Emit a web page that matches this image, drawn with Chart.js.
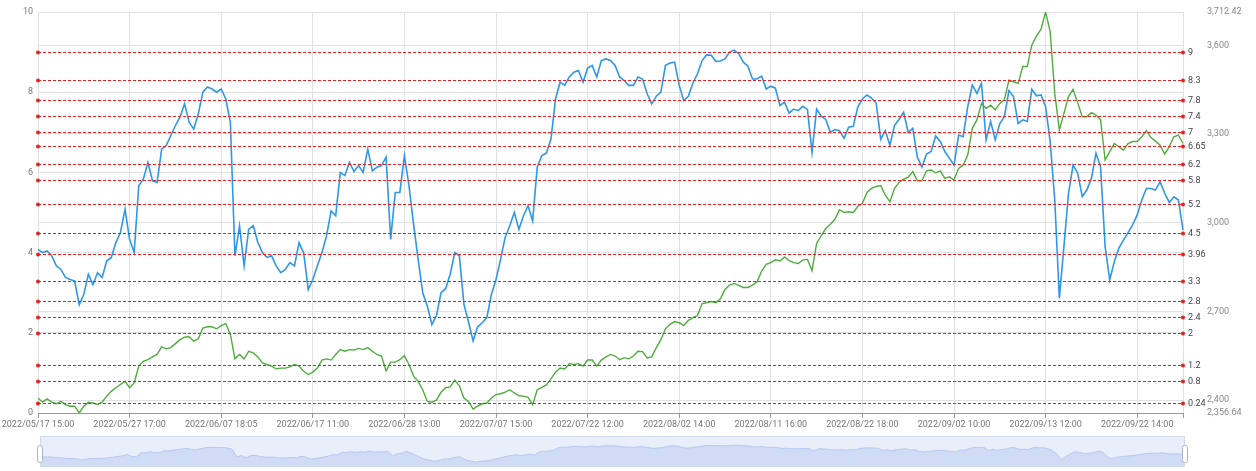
<!DOCTYPE html>
<html>
<head>
<meta charset="utf-8">
<script src="https://cdn.jsdelivr.net/npm/chart.js@4.4.1/dist/chart.umd.min.js"></script>
<style>
  html, body { margin: 0; padding: 0; background: #fff; }
  #wrap { position: relative; width: 1256px; height: 471px; }
  #chart { position: absolute; left: 0; top: 0; }
  #zoom { position: absolute; left: 0; top: 436px; }
</style>
</head>
<body>
<div id="wrap">
  <canvas id="chart" width="1256" height="432"></canvas>
  <canvas id="zoom" width="1256" height="31"></canvas>
</div>
<script>
'use strict';

// x axis labels, one every 20 points
const tickLabels = [
  '2022/05/17 15:00', '2022/05/27 17:00', '2022/06/07 18:05', '2022/06/17 11:00',
  '2022/06/28 13:00', '2022/07/07 15:00', '2022/07/22 12:00', '2022/08/02 14:00',
  '2022/08/11 16:00', '2022/08/22 18:00', '2022/09/02 10:00', '2022/09/13 12:00',
  '2022/09/22 14:00'
];
const labelEvery = 20;

// left axis series (0 - 10)
const blueVals = [
  4.08, 4.0, 4.04, 3.92, 3.67, 3.58, 3.38, 3.33, 3.29, 2.7,
  2.96, 3.46, 3.2, 3.5, 3.38, 3.79, 3.88, 4.25, 4.5, 5.08,
  4.33, 4.0, 5.67, 5.83, 6.25, 5.79, 5.75, 6.58, 6.67, 6.92,
  7.17, 7.38, 7.71, 7.25, 7.08, 7.46, 8.0, 8.13, 8.08, 8.0,
  8.08, 7.83, 7.25, 3.92, 4.67, 3.67, 4.58, 4.67, 4.25, 4.0,
  3.88, 3.92, 3.67, 3.5, 3.58, 3.75, 3.67, 4.25, 4.0, 3.08,
  3.33, 3.67, 4.0, 4.42, 5.04, 4.92, 6.0, 5.92, 6.25, 6.02,
  6.17, 6.0, 6.58, 6.04, 6.13, 6.17, 6.38, 4.33, 5.5, 5.5,
  6.42, 5.67, 4.71, 3.83, 3.0, 2.67, 2.21, 2.43, 3.0, 3.1,
  3.46, 4.0, 3.92, 2.71, 2.27, 1.8, 2.15, 2.25, 2.38, 2.96,
  3.33, 3.83, 4.38, 4.67, 5.0, 4.58, 4.92, 5.17, 4.79, 6.13,
  6.42, 6.48, 6.83, 7.83, 8.25, 8.17, 8.38, 8.5, 8.54, 8.25,
  8.6, 8.67, 8.38, 8.79, 8.83, 8.79, 8.67, 8.38, 8.29, 8.17,
  8.17, 8.38, 8.33, 7.96, 7.71, 7.9, 8.0, 8.67, 8.73, 8.75,
  8.17, 7.79, 7.9, 8.23, 8.46, 8.79, 8.93, 8.92, 8.77, 8.78,
  8.83, 9.0, 9.05, 8.96, 8.75, 8.65, 8.33, 8.33, 8.4, 8.08,
  8.15, 8.1, 7.67, 7.75, 7.48, 7.58, 7.54, 7.65, 7.57, 6.5,
  7.58, 7.4, 7.32, 7.0, 7.07, 7.04, 6.85, 7.13, 7.15, 7.63,
  7.83, 7.93, 7.85, 7.73, 6.83, 7.04, 6.68, 7.17, 7.32, 7.5,
  7.0, 7.1, 6.38, 6.13, 6.46, 6.52, 6.91, 6.77, 6.52, 6.35,
  6.18, 6.93, 6.89, 7.64, 8.18, 7.97, 8.22, 6.81, 7.27, 6.81,
  7.22, 7.39, 8.04, 7.89, 7.22, 7.31, 7.27, 8.07, 7.91, 7.93,
  7.64, 6.77, 5.31, 2.86, 4.15, 5.48, 6.18, 5.98, 5.4, 5.56,
  5.85, 6.48, 6.14, 4.15, 3.32, 3.77, 4.11, 4.31, 4.5, 4.69,
  4.94, 5.31, 5.6, 5.6, 5.56, 5.77, 5.48, 5.25, 5.39, 5.31,
  4.56
];

// right axis series
const greenVals = [
  2407.5, 2393.2, 2404.1, 2393.2, 2387.8, 2395.9, 2385.1, 2379.7, 2379.7, 2356.64,
  2379.7, 2393.2, 2390.5, 2385.1, 2393.2, 2413.6, 2429.8, 2442.0, 2452.9, 2463.7,
  2442.0, 2458.3, 2515.3, 2531.5, 2536.9, 2546.4, 2554.6, 2580.3, 2573.6, 2577.6,
  2591.2, 2604.7, 2612.9, 2614.2, 2599.3, 2607.5, 2644.0, 2648.1, 2648.1, 2641.3,
  2652.2, 2659.0, 2622.4, 2539.7, 2554.6, 2539.7, 2565.4, 2560.0, 2546.4, 2526.1,
  2520.7, 2515.3, 2505.8, 2508.5, 2508.5, 2512.6, 2520.7, 2515.3, 2497.6, 2486.8,
  2494.9, 2508.5, 2535.6, 2539.7, 2535.6, 2554.6, 2570.9, 2565.4, 2570.9, 2569.5,
  2574.9, 2570.9, 2577.6, 2565.4, 2554.6, 2549.2, 2499.0, 2528.8, 2528.8, 2536.9,
  2550.5, 2520.7, 2481.4, 2463.7, 2435.3, 2395.9, 2393.2, 2400.0, 2427.1, 2442.0,
  2444.8, 2467.8, 2448.8, 2407.5, 2395.9, 2370.2, 2379.7, 2387.8, 2390.5, 2407.5,
  2419.0, 2421.7, 2427.1, 2435.3, 2424.4, 2414.9, 2413.6, 2409.5, 2385.1, 2435.3,
  2443.4, 2451.5, 2471.9, 2494.9, 2508.5, 2505.8, 2523.4, 2520.7, 2523.4, 2515.3,
  2535.6, 2535.6, 2515.3, 2535.6, 2546.4, 2554.6, 2549.2, 2536.9, 2543.7, 2539.7,
  2549.2, 2565.4, 2564.1, 2543.1, 2546.4, 2577.6, 2604.7, 2641.3, 2656.3, 2665.7,
  2661.7, 2652.2, 2669.8, 2679.3, 2686.1, 2726.8, 2729.5, 2733.5, 2729.5, 2743.0,
  2774.2, 2789.1, 2794.6, 2787.8, 2781.0, 2781.0, 2789.1, 2800.0, 2836.6, 2859.6,
  2865.0, 2874.5, 2870.5, 2884.0, 2871.8, 2865.0, 2862.3, 2874.5, 2875.9, 2837.9,
  2930.1, 2955.9, 2980.3, 2995.2, 3011.4, 3044.0, 3034.5, 3037.2, 3034.5, 3054.8,
  3065.7, 3102.3, 3115.8, 3122.6, 3125.3, 3092.8, 3071.1, 3115.8, 3136.2, 3147.0,
  3153.8, 3172.8, 3141.6, 3141.6, 3175.5, 3178.2, 3168.7, 3175.5, 3149.7, 3155.2,
  3144.3, 3183.6, 3194.5, 3228.4, 3319.2, 3347.7, 3403.3, 3387.0, 3397.8, 3381.6,
  3403.3, 3415.5, 3481.9, 3476.5, 3471.1, 3528.0, 3528.0, 3601.2, 3631.0, 3654.1,
  3712.42, 3645.9, 3437.2, 3313.8, 3369.4, 3426.3, 3450.7, 3406.0, 3358.5, 3358.5,
  3372.1, 3363.9, 3347.7, 3212.1, 3240.6, 3267.7, 3256.8, 3246.0, 3267.7, 3274.5,
  3274.5, 3290.7, 3311.1, 3288.0, 3275.8, 3262.3, 3232.4, 3256.8, 3290.7, 3296.2,
  3267.7
];

// red dashed reference lines on the left axis
const markValues = [9, 8.3, 7.8, 7.4, 7, 6.65, 6.2, 5.8, 5.2, 4.5, 3.96, 3.3, 2.8, 2.4, 2, 1.2, 0.8, 0.24];

const leftMin = 0;
const leftMax = 10;
const leftStep = 2;
const rightTicks = [2400, 2700, 3000, 3300, 3600];

const N = blueVals.length;
const xLabels = Array.from({length: N}, (_, i) => i % labelEvery === 0 ? tickLabels[i / labelEvery] : '');
const rightMin = Math.min(...greenVals);
const rightMax = Math.max(...greenVals);

const fontFamily = 'Roboto, "Open Sans", sans-serif';
Chart.defaults.font.family = fontFamily;
Chart.defaults.font.size = 9;
Chart.defaults.color = '#777';

const gridColor = '#e2e2e2';

// draws the dashed mark lines with dots and labels
const markLines = {
  id: 'markLines',
  afterDatasetsDraw(chart) {
    const {ctx, chartArea: a} = chart;
    const y = chart.scales.y;
    ctx.save();
    ctx.font = '9px ' + fontFamily;
    ctx.textBaseline = 'middle';
    markValues.forEach(v => {
      const py = Math.round(y.getPixelForValue(v)) + 0.5;
      ctx.strokeStyle = '#f21b1b';
      ctx.lineWidth = 1;
      ctx.setLineDash([3, 2]);
      ctx.beginPath();
      ctx.moveTo(a.left, py);
      ctx.lineTo(a.right, py);
      ctx.stroke();
      ctx.setLineDash([]);
      ctx.fillStyle = '#f21b1b';
      [a.left, a.right].forEach(px => {
        ctx.beginPath();
        ctx.arc(px, py, 2, 0, Math.PI * 2);
        ctx.fill();
      });
      ctx.fillStyle = '#444';
      ctx.fillText(String(v), a.right + 5, py);
    });
    ctx.restore();
  }
};

new Chart(document.getElementById('chart'), {
  type: 'line',
  data: {
    labels: xLabels,
    datasets: [{
      data: blueVals,
      yAxisID: 'y',
      borderColor: '#2f97e8',
      borderWidth: 1.6,
      pointRadius: 0,
      tension: 0
    }, {
      data: greenVals,
      yAxisID: 'y2',
      borderColor: '#4fad3d',
      borderWidth: 1.4,
      pointRadius: 0,
      tension: 0
    }]
  },
  options: {
    responsive: false,
    animation: false,
    layout: {padding: {top: 12, left: 0, right: 0, bottom: 0}},
    plugins: {legend: {display: false}, tooltip: {enabled: false}},
    scales: {
      x: {
        grid: {color: gridColor, tickLength: 5, tickColor: '#999'},
        border: {color: '#999'},
        ticks: {autoSkip: false, maxRotation: 0, padding: 1, color: '#777'},
        afterBuildTicks(scale) {
          scale.ticks = scale.ticks.filter(t => t.value % labelEvery === 0 || t.value === N - 1);
        },
        afterFit(scale) { scale.height = 19; }
      },
      y: {
        position: 'left',
        min: leftMin,
        max: leftMax,
        ticks: {stepSize: leftStep, padding: 5, color: '#777'},
        grid: {color: gridColor, drawTicks: false},
        border: {display: false},
        afterFit(scale) { scale.width = 38; }
      },
      y2: {
        position: 'right',
        min: rightMin,
        max: rightMax,
        ticks: {
          padding: 5,
          color: '#888',
          callback: v => v.toLocaleString('en-US', {maximumFractionDigits: 2})
        },
        // invisible tick marks push the labels right of the mark line labels
        grid: {color: gridColor, drawTicks: true, tickLength: 19, tickColor: 'rgba(0,0,0,0)'},
        border: {display: false},
        afterBuildTicks(scale) {
          scale.ticks = [rightMin, ...rightTicks, rightMax].map(v => ({value: v}));
        },
        afterFit(scale) { scale.width = 73; }
      }
    }
  },
  plugins: [markLines]
});

// data zoom strip under the chart
const sliderFrame = {
  id: 'sliderFrame',
  beforeDatasetsDraw(chart) {
    const {ctx, chartArea: a} = chart;
    ctx.save();
    ctx.fillStyle = '#e9eefb';
    ctx.fillRect(a.left, a.top, a.right - a.left, a.bottom - a.top);
    ctx.restore();
  },
  afterDatasetsDraw(chart) {
    const {ctx, chartArea: a} = chart;
    ctx.save();
    ctx.strokeStyle = '#d2dbee';
    ctx.lineWidth = 1;
    ctx.strokeRect(a.left + 0.5, a.top + 0.5, a.right - a.left - 1, a.bottom - a.top - 1);
    ctx.fillStyle = '#fff';
    ctx.strokeStyle = '#a9b4c9';
    [a.left, a.right].forEach(px => {
      ctx.beginPath();
      ctx.roundRect(px - 2.5, 9.5, 5, 17, 2);
      ctx.fill();
      ctx.stroke();
    });
    ctx.restore();
  }
};

new Chart(document.getElementById('zoom'), {
  type: 'line',
  data: {
    labels: xLabels,
    datasets: [{
      data: blueVals,
      borderColor: '#b7c8ee',
      borderWidth: 1,
      backgroundColor: '#d0dcf6',
      fill: 'start',
      pointRadius: 0,
      tension: 0
    }]
  },
  options: {
    responsive: false,
    animation: false,
    layout: {padding: {left: 40, right: 71, top: 0, bottom: 0}},
    plugins: {legend: {display: false}, tooltip: {enabled: false}},
    scales: {
      x: {display: false},
      y: {display: false, min: -0.3, max: 13}
    }
  },
  plugins: [sliderFrame]
});
</script>
</body>
</html>
